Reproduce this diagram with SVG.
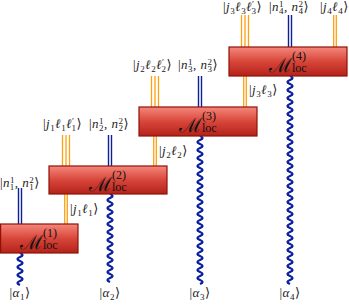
<svg xmlns="http://www.w3.org/2000/svg" width="349" height="306" viewBox="0 0 349 306">
<defs>
<linearGradient id="bg" x1="0" y1="0" x2="0" y2="1">
<stop offset="0" stop-color="#f5877c"/>
<stop offset="0.5" stop-color="#d8463a"/>
<stop offset="1" stop-color="#b3221a"/>
</linearGradient>
<style>
.box{fill:url(#bg);stroke:#8e1208;stroke-width:1.2}
.wave{fill:none;stroke:#0b22a0;stroke-width:2.4}
.bl{stroke:#0b1f96;stroke-width:1.4}
.or{stroke:#ffa012;stroke-width:1.3}
.m{font-family:"Liberation Serif","DejaVu Serif",serif;font-size:13px;letter-spacing:0.5px;fill:#222}
.i{font-style:italic}
.s{font-size:9px}
.M{font-family:"DejaVu Serif","Noto Sans",serif;font-size:20px;fill:#111}
.sup{font-family:"Liberation Serif","DejaVu Serif",serif;font-size:12px;fill:#111}
</style>
</defs>
<rect width="349" height="306" fill="#fff"/>
<g id="connectors">
<path class="wave" d="M20,253 q5,2 0,4 t0,4 t0,4 t0,4 t0,4 t0,4 t0,4 t0,4"/>
<path class="wave" d="M110,194 q5,2 0,4 t0,4 t0,4 t0,4 t0,4 t0,4 t0,4 t0,4 t0,4 t0,4 t0,4 t0,4 t0,4 t0,4 t0,4 t0,4 t0,4 t0,4 t0,4 t0,4 t0,4 t0,4"/>
<path class="wave" d="M200,136 q5,2 0,4 t0,4 t0,4 t0,4 t0,4 t0,4 t0,4 t0,4 t0,4 t0,4 t0,4 t0,4 t0,4 t0,4 t0,4 t0,4 t0,4 t0,4 t0,4 t0,4 t0,4 t0,4 t0,4 t0,4 t0,4 t0,4 t0,4 t0,4 t0,4 t0,4 t0,4 t0,4 t0,4 t0,4 t0,4 t0,4 t0,4"/>
<path class="wave" d="M290,76 q5,2 0,4 t0,4 t0,4 t0,4 t0,4 t0,4 t0,4 t0,4 t0,4 t0,4 t0,4 t0,4 t0,4 t0,4 t0,4 t0,4 t0,4 t0,4 t0,4 t0,4 t0,4 t0,4 t0,4 t0,4 t0,4 t0,4 t0,4 t0,4 t0,4 t0,4 t0,4 t0,4 t0,4 t0,4 t0,4 t0,4 t0,4 t0,4 t0,4 t0,4 t0,4 t0,4 t0,4 t0,4 t0,4 t0,4 t0,4 t0,4 t0,4 t0,4 t0,4 t0,4"/>
<path class="bl" d="M18.5,188V224M21.5,188V224"/>
<path class="bl" d="M108.5,135V166M111.5,135V166"/>
<path class="bl" d="M198.5,76V107M201.5,76V107"/>
<path class="bl" d="M288.5,15V47M291.5,15V47"/>
<path class="or" d="M64.7,194V224M67.3,194V224"/>
<path class="or" d="M153.7,136V166M156.3,136V166"/>
<path class="or" d="M243.7,76V107M246.3,76V107"/>
<path class="or" d="M333.7,15V47M336.3,15V47"/>
<path class="or" d="M62.5,135V166M66,135V166M69.5,135V166"/>
<path class="or" d="M151.5,76V107M155,76V107M158.5,76V107"/>
<path class="or" d="M241.5,15V47M245,15V47M248.5,15V47"/>
</g>
<g id="node1">
<rect class="box" x="0.6" y="224" width="77.4" height="29"/>
<text class="M" x="20" y="249">ℳ</text><text class="sup" x="43" y="237">(1)</text><text class="sup" x="43" y="249">loc</text>
</g>
<g id="node2">
<rect class="box" x="49" y="166" width="118" height="28"/>
<text class="M" x="89" y="191">ℳ</text><text class="sup" x="112" y="179">(2)</text><text class="sup" x="112" y="191">loc</text>
</g>
<g id="node3">
<rect class="box" x="139" y="107" width="118" height="29"/>
<text class="M" x="179" y="132">ℳ</text><text class="sup" x="202" y="120">(3)</text><text class="sup" x="202" y="132">loc</text>
</g>
<g id="node4">
<rect class="box" x="229" y="47" width="118" height="29"/>
<text class="M" x="269" y="72">ℳ</text><text class="sup" x="292" y="60">(4)</text><text class="sup" x="292" y="72">loc</text>
</g>
<g id="labels">
<text class="m" x="0" y="187">|<tspan class="i">n</tspan><tspan class="s" dy="-4.5">1</tspan><tspan class="s" dx="-5" dy="7.5">1</tspan><tspan dy="-3">, </tspan><tspan class="i">n</tspan><tspan class="s" dy="-4.5">2</tspan><tspan class="s" dx="-5" dy="7.5">1</tspan><tspan dy="-3">⟩</tspan></text>
<text class="m" x="70" y="213">|<tspan class="i">j</tspan><tspan class="s" dy="3">1</tspan><tspan class="i" dy="-3">ℓ</tspan><tspan class="s" dy="3">1</tspan><tspan dy="-3">⟩</tspan></text>
<text class="m" x="43" y="128">|<tspan class="i">j</tspan><tspan class="s" dy="3">1</tspan><tspan class="i" dy="-3">ℓ</tspan><tspan class="s" dy="3">1</tspan><tspan class="i" dy="-3">ℓ</tspan><tspan class="s" dy="-4.5">′</tspan><tspan class="s" dx="-3" dy="7.5">1</tspan><tspan dy="-3">⟩</tspan></text>
<text class="m" x="89" y="128">|<tspan class="i">n</tspan><tspan class="s" dy="-4.5">1</tspan><tspan class="s" dx="-5" dy="7.5">2</tspan><tspan dy="-3">, </tspan><tspan class="i">n</tspan><tspan class="s" dy="-4.5">2</tspan><tspan class="s" dx="-5" dy="7.5">2</tspan><tspan dy="-3">⟩</tspan></text>
<text class="m" x="159" y="155">|<tspan class="i">j</tspan><tspan class="s" dy="3">2</tspan><tspan class="i" dy="-3">ℓ</tspan><tspan class="s" dy="3">2</tspan><tspan dy="-3">⟩</tspan></text>
<text class="m" x="133" y="69">|<tspan class="i">j</tspan><tspan class="s" dy="3">2</tspan><tspan class="i" dy="-3">ℓ</tspan><tspan class="s" dy="3">2</tspan><tspan class="i" dy="-3">ℓ</tspan><tspan class="s" dy="-4.5">′</tspan><tspan class="s" dx="-3" dy="7.5">2</tspan><tspan dy="-3">⟩</tspan></text>
<text class="m" x="178" y="69">|<tspan class="i">n</tspan><tspan class="s" dy="-4.5">1</tspan><tspan class="s" dx="-5" dy="7.5">3</tspan><tspan dy="-3">, </tspan><tspan class="i">n</tspan><tspan class="s" dy="-4.5">2</tspan><tspan class="s" dx="-5" dy="7.5">3</tspan><tspan dy="-3">⟩</tspan></text>
<text class="m" x="249" y="94">|<tspan class="i">j</tspan><tspan class="s" dy="3">3</tspan><tspan class="i" dy="-3">ℓ</tspan><tspan class="s" dy="3">3</tspan><tspan dy="-3">⟩</tspan></text>
<text class="m" x="223" y="11">|<tspan class="i">j</tspan><tspan class="s" dy="3">3</tspan><tspan class="i" dy="-3">ℓ</tspan><tspan class="s" dy="3">3</tspan><tspan class="i" dy="-3">ℓ</tspan><tspan class="s" dy="-4.5">′</tspan><tspan class="s" dx="-3" dy="7.5">3</tspan><tspan dy="-3">⟩</tspan></text>
<text class="m" x="269" y="11">|<tspan class="i">n</tspan><tspan class="s" dy="-4.5">1</tspan><tspan class="s" dx="-5" dy="7.5">4</tspan><tspan dy="-3">, </tspan><tspan class="i">n</tspan><tspan class="s" dy="-4.5">2</tspan><tspan class="s" dx="-5" dy="7.5">4</tspan><tspan dy="-3">⟩</tspan></text>
<text class="m" x="320" y="11">|<tspan class="i">j</tspan><tspan class="s" dy="3">4</tspan><tspan class="i" dy="-3">ℓ</tspan><tspan class="s" dy="3">4</tspan><tspan dy="-3">⟩</tspan></text>
<text class="m" x="20" y="297" text-anchor="middle">|<tspan class="i">α</tspan><tspan class="s" dy="3">1</tspan><tspan dy="-3">⟩</tspan></text>
<text class="m" x="110" y="297" text-anchor="middle">|<tspan class="i">α</tspan><tspan class="s" dy="3">2</tspan><tspan dy="-3">⟩</tspan></text>
<text class="m" x="200" y="297" text-anchor="middle">|<tspan class="i">α</tspan><tspan class="s" dy="3">3</tspan><tspan dy="-3">⟩</tspan></text>
<text class="m" x="290" y="297" text-anchor="middle">|<tspan class="i">α</tspan><tspan class="s" dy="3">4</tspan><tspan dy="-3">⟩</tspan></text>
</g>
</svg>
